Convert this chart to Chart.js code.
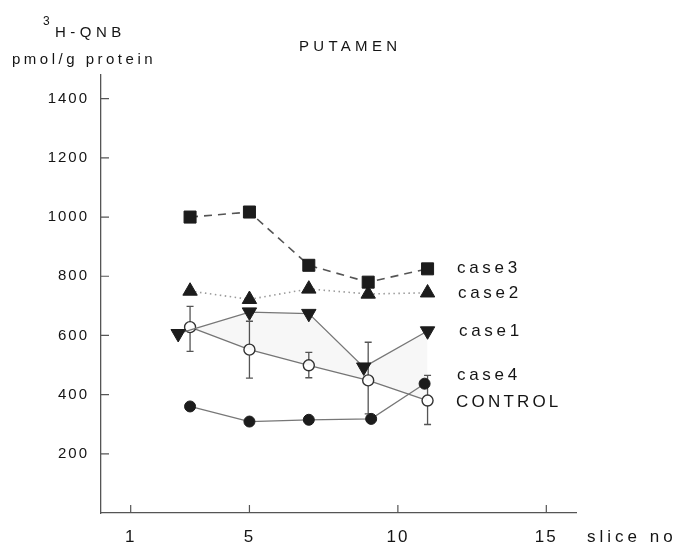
<!DOCTYPE html>
<html>
<head>
<meta charset="utf-8">
<script src="https://cdn.jsdelivr.net/npm/chart.js@4.4.1/dist/chart.umd.min.js"></script>
<style>
  body { margin: 0; background: #fff; }
  #wrap { width: 674px; height: 544px; }
</style>
</head>
<body>
<div id="wrap"><canvas id="myChart"></canvas></div>
<script>
// slice numbers and 3H-QNB binding (pmol/g protein)
const case3X = [3, 5, 7, 9, 11];
const case3Y = [1000, 1017, 837, 780, 825];

const case2X = [3, 5, 7, 9, 11];
const case2Y = [750, 722, 757, 740, 744];

const case1X = [2.6, 5, 7, 8.85, 11];
const case1Y = [606, 679, 674, 493, 615];

const controlX = [3, 5, 7, 9, 11];
const controlY = [628, 552, 499, 448, 380];
const controlHigh = [698, 648, 543, 577, 465];
const controlLow = [546, 456, 457, 335, 299];

const case4X = [3, 5, 7, 9.1, 10.9];
const case4Y = [360, 309, 315, 318, 437];

const xTicks = [1, 5, 10, 15];
const yTicks = [200, 400, 600, 800, 1000, 1200, 1400];

const FONT = "'Liberation Sans', Arial, sans-serif";
const INK = '#141414';

function toPoints(xs, ys) {
  return xs.map((x, i) => ({ x: x, y: ys[i] }));
}

// error bars on the control series + inward tick marks
const extras = {
  id: 'extras',
  beforeDraw(chart) {
    chart.ctx.letterSpacing = '2px';
  },
  beforeDatasetsDraw(chart) {
    const ctx = chart.ctx;
    const x = chart.scales.x;
    const y = chart.scales.y;
    const area = chart.chartArea;
    ctx.save();
    ctx.strokeStyle = '#555';
    ctx.lineWidth = 1.2;
    ctx.beginPath();
    xTicks.forEach(v => {
      const px = x.getPixelForValue(v);
      ctx.moveTo(px, area.bottom);
      ctx.lineTo(px, area.bottom - 8);
    });
    yTicks.forEach(v => {
      const py = y.getPixelForValue(v);
      ctx.moveTo(area.left, py);
      ctx.lineTo(area.left + 8, py);
    });
    ctx.stroke();

    ctx.strokeStyle = '#555';
    ctx.lineWidth = 1.3;
    ctx.beginPath();
    controlX.forEach((v, i) => {
      const px = x.getPixelForValue(v);
      const top = y.getPixelForValue(controlHigh[i]);
      const bot = y.getPixelForValue(controlLow[i]);
      ctx.moveTo(px, top);
      ctx.lineTo(px, bot);
      ctx.moveTo(px - 3.5, top);
      ctx.lineTo(px + 3.5, top);
      ctx.moveTo(px - 3.5, bot);
      ctx.lineTo(px + 3.5, bot);
    });
    ctx.stroke();
    ctx.restore();
  },
  afterDraw(chart) {
    const ctx = chart.ctx;
    ctx.save();
    ctx.fillStyle = INK;
    ctx.textBaseline = 'middle';
    ctx.textAlign = 'left';

    function put(text, px, py, size, spacing) {
      ctx.font = size + 'px ' + FONT;
      ctx.letterSpacing = spacing + 'px';
      ctx.fillText(text, px, py);
    }

    put('3', 43, 22, 12, 0);
    put('H-QNB', 55, 33, 15, 4.5);
    put('pmol/g protein', 12, 60, 15, 3.5);
    put('PUTAMEN', 299, 47, 15, 4.3);

    put('case3', 457, 268, 17, 3.7);
    put('case2', 458, 293, 17, 3.7);
    put('case1', 459, 331, 17, 3.7);
    put('case4', 457, 375, 17, 3.7);
    put('CONTROL', 456, 402, 17, 3.2);

    put('slice no', 587, 537, 17, 4);
    ctx.restore();
    ctx.letterSpacing = '0px';
  }
};

const lineGray = '#777';
const markInk = '#1c1c1c';

new Chart(document.getElementById('myChart'), {
  type: 'line',
  data: {
    datasets: [
      {
        label: 'case2',
        data: toPoints(case2X, case2Y),
        borderColor: '#9a9a9a',
        borderWidth: 1.6,
        borderDash: [1.5, 3.5],
        pointStyle: 'triangle',
        pointRadius: 8.3,
        pointBackgroundColor: markInk,
        pointBorderColor: markInk,
        pointBorderWidth: 1
      },
      {
        label: 'case3',
        data: toPoints(case3X, case3Y),
        borderColor: '#555',
        borderWidth: 1.6,
        borderDash: [8, 6],
        pointStyle: 'rect',
        pointRadius: 8.5,
        pointBackgroundColor: markInk,
        pointBorderColor: markInk,
        pointBorderWidth: 1
      },
      {
        label: 'case4',
        data: toPoints(case4X, case4Y),
        borderColor: lineGray,
        borderWidth: 1.3,
        pointStyle: 'circle',
        pointRadius: 5.5,
        pointBackgroundColor: markInk,
        pointBorderColor: markInk,
        pointBorderWidth: 1
      },
      {
        label: 'case1',
        data: toPoints(case1X, case1Y),
        borderColor: lineGray,
        borderWidth: 1.3,
        fill: { target: 4 },
        backgroundColor: 'rgba(0,0,0,0.03)',
        pointStyle: 'triangle',
        rotation: 180,
        pointRadius: 8.3,
        pointBackgroundColor: markInk,
        pointBorderColor: markInk,
        pointBorderWidth: 1
      },
      {
        label: 'CONTROL',
        data: toPoints(controlX, controlY),
        borderColor: lineGray,
        borderWidth: 1.3,
        pointStyle: 'circle',
        pointRadius: 5.5,
        pointBackgroundColor: '#fff',
        pointBorderColor: '#333',
        pointBorderWidth: 1.4
      }
    ]
  },
  options: {
    responsive: true,
    maintainAspectRatio: false,
    animation: false,
    layout: { padding: { top: 75, right: 98, left: 0, bottom: 0 } },
    plugins: {
      legend: { display: false },
      tooltip: { enabled: false }
    },
    elements: { line: { tension: 0 } },
    scales: {
      x: {
        type: 'linear',
        min: 0,
        max: 16,
        grid: { display: false, drawTicks: false },
        border: { display: true, color: '#555', width: 1.3 },
        ticks: {
          color: INK,
          padding: 14,
          font: { family: FONT, size: 17 },
          maxRotation: 0,
          callback: v => String(v)
        },
        afterBuildTicks: s => { s.ticks = xTicks.map(v => ({ value: v })); },
        afterFit: s => { s.height = 31; }
      },
      y: {
        type: 'linear',
        min: 0,
        max: 1480,
        grid: { display: false, drawTicks: false },
        border: { display: true, color: '#555', width: 1.3 },
        ticks: {
          color: INK,
          padding: 12,
          font: { family: FONT, size: 15 },
          callback: v => String(v)
        },
        afterBuildTicks: s => { s.ticks = yTicks.map(v => ({ value: v })); },
        afterFit: s => { s.width = 101; }
      }
    }
  },
  plugins: [extras]
});
</script>
</body>
</html>
